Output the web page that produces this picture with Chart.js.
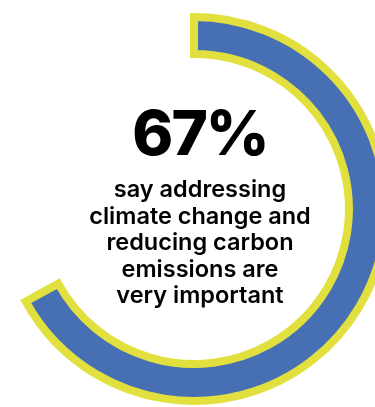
<!DOCTYPE html>
<html>
<head>
<meta charset="utf-8">
<script src="https://cdn.jsdelivr.net/npm/chart.js@4"></script>
<style>
  html, body { margin: 0; padding: 0; background: #fff; overflow: hidden; }
  #wrap { width: 375px; height: 407px; overflow: hidden; }
  canvas { display: block; }
</style>
</head>
<body>
<div id="wrap"><canvas id="ring" width="388" height="418"></canvas></div>
<script>
const categories = ["Very important", "Other"];
const values = [67, 33];
const headline = "67%";
const captionLines = [
  "say addressing",
  "climate change and",
  "reducing carbon",
  "emissions are",
  "very important",
];

const BLUE = "#476fb4";
const YELLOW = "#e2e03e";

// big number + caption in the middle of the ring
const centerText = {
  id: "centerText",
  afterDraw(chart) {
    const ctx = chart.ctx;
    const x = 200;
    ctx.save();
    ctx.fillStyle = "#000";
    ctx.textAlign = "center";
    ctx.textBaseline = "alphabetic";
    ctx.font = "800 62px Inter";
    ctx.letterSpacing = "-2px";
    ctx.fillText(headline, x, 155);
    ctx.letterSpacing = "0px";
    ctx.font = "600 23.5px Inter";
    captionLines.forEach((line, i) => {
      ctx.fillText(line, x, 197 + i * 26.5);
    });
    ctx.restore();
  },
};

new Chart(document.getElementById("ring"), {
  type: "doughnut",
  data: {
    labels: categories,
    datasets: [
      {
        data: values,
        backgroundColor: [BLUE, "rgba(0,0,0,0)"],
        borderColor: [YELLOW, "rgba(0,0,0,0)"],
        borderWidth: [8, 0],
        borderJoinStyle: "miter",
      },
    ],
  },
  options: {
    responsive: false,
    animation: false,
    radius: 192,
    cutout: "80.7%",
    rotation: 0,
    layout: { padding: 0 },
    plugins: {
      legend: { display: false },
      tooltip: { enabled: false },
    },
  },
  plugins: [centerText],
});
</script>
</body>
</html>
